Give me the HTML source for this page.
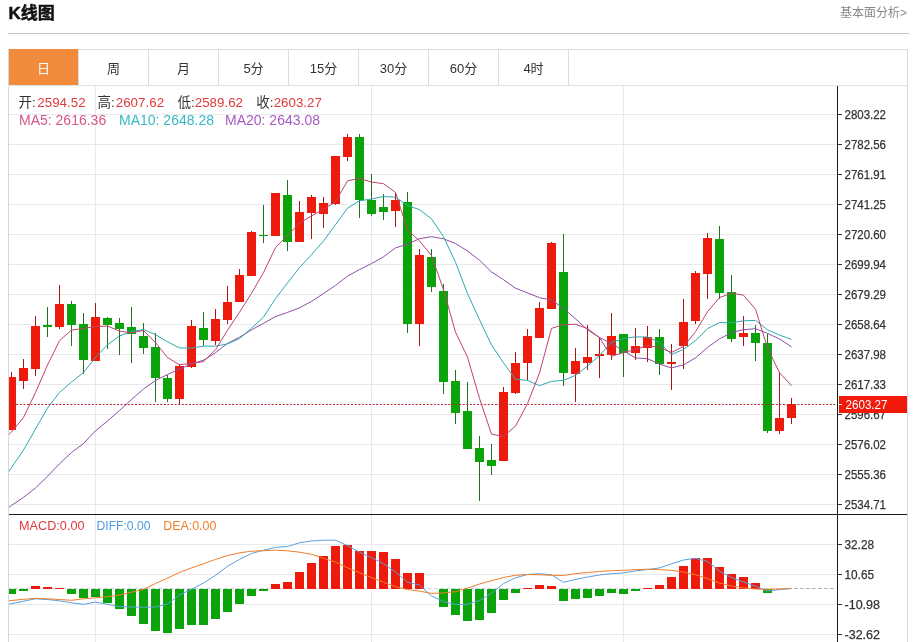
<!DOCTYPE html><html><head><meta charset="utf-8"><style>html,body{margin:0;padding:0;background:#fff;width:913px;height:642px;overflow:hidden}svg{display:block}text{font-family:"Liberation Sans","Noto Sans CJK SC",sans-serif}.ax{stroke:#333;stroke-width:0.25px}</style></head><body>
<svg width="913" height="642" viewBox="0 0 913 642" shape-rendering="crispEdges">
<text x="8.5" y="18.7" font-size="17" font-weight="bold" fill="#111" stroke="#111" stroke-width="0.5">K线图</text>
<text x="907" y="16.7" font-size="12" fill="#888" text-anchor="end">基本面分析&gt;</text>
<rect x="8" y="33" width="901" height="1" fill="#c4c4c4"/>
<rect x="8" y="49" width="1" height="593" fill="#d8d8d8"/>
<rect x="907" y="49" width="1" height="593" fill="#d8d8d8"/>
<rect x="8" y="49" width="900" height="1" fill="#dcdcdc"/>
<rect x="8" y="85" width="900" height="1" fill="#e2e2e2"/>
<rect x="9" y="49" width="69" height="36" fill="#f18a3b"/>
<text x="43.5" y="73" font-size="13" fill="#fff" text-anchor="middle">日</text>
<rect x="78" y="50" width="1" height="35" fill="#dcdcdc"/>
<text x="113.5" y="73" font-size="13" fill="#333" text-anchor="middle">周</text>
<rect x="148" y="50" width="1" height="35" fill="#dcdcdc"/>
<text x="183.5" y="73" font-size="13" fill="#333" text-anchor="middle">月</text>
<rect x="218" y="50" width="1" height="35" fill="#dcdcdc"/>
<text x="253.5" y="73" font-size="13" fill="#333" text-anchor="middle">5分</text>
<rect x="288" y="50" width="1" height="35" fill="#dcdcdc"/>
<text x="323.5" y="73" font-size="13" fill="#333" text-anchor="middle">15分</text>
<rect x="358" y="50" width="1" height="35" fill="#dcdcdc"/>
<text x="393.5" y="73" font-size="13" fill="#333" text-anchor="middle">30分</text>
<rect x="428" y="50" width="1" height="35" fill="#dcdcdc"/>
<text x="463.5" y="73" font-size="13" fill="#333" text-anchor="middle">60分</text>
<rect x="498" y="50" width="1" height="35" fill="#dcdcdc"/>
<text x="533.5" y="73" font-size="13" fill="#333" text-anchor="middle">4时</text>
<rect x="568" y="50" width="1" height="35" fill="#dcdcdc"/>
<rect x="9" y="114" width="828" height="1" fill="#e9e9eb"/>
<rect x="9" y="144" width="828" height="1" fill="#e9e9eb"/>
<rect x="9" y="174" width="828" height="1" fill="#e9e9eb"/>
<rect x="9" y="204" width="828" height="1" fill="#e9e9eb"/>
<rect x="9" y="234" width="828" height="1" fill="#e9e9eb"/>
<rect x="9" y="264" width="828" height="1" fill="#e9e9eb"/>
<rect x="9" y="294" width="828" height="1" fill="#e9e9eb"/>
<rect x="9" y="324" width="828" height="1" fill="#e9e9eb"/>
<rect x="9" y="354" width="828" height="1" fill="#e9e9eb"/>
<rect x="9" y="384" width="828" height="1" fill="#e9e9eb"/>
<rect x="9" y="414" width="828" height="1" fill="#e9e9eb"/>
<rect x="9" y="444" width="828" height="1" fill="#e9e9eb"/>
<rect x="9" y="474" width="828" height="1" fill="#e9e9eb"/>
<rect x="9" y="504" width="828" height="1" fill="#e9e9eb"/>
<rect x="9" y="544" width="828" height="1" fill="#e9e9eb"/>
<rect x="9" y="574" width="828" height="1" fill="#e9e9eb"/>
<rect x="9" y="604" width="828" height="1" fill="#e9e9eb"/>
<rect x="9" y="634" width="828" height="1" fill="#e9e9eb"/>
<rect x="95" y="86" width="1" height="556" fill="#e9e9eb"/>
<rect x="371" y="86" width="1" height="556" fill="#e9e9eb"/>
<rect x="623" y="86" width="1" height="556" fill="#e9e9eb"/>
<defs><clipPath id="cm"><rect x="9" y="86" width="828" height="428"/></clipPath><clipPath id="cd"><rect x="9" y="515" width="828" height="127"/></clipPath></defs>
<g clip-path="url(#cm)">
<rect x="11.0" y="372.0" width="1" height="58.0" fill="#a8180e"/>
<rect x="7.0" y="377.3" width="9" height="52.4" fill="#ee1a0c"/>
<rect x="23.0" y="359.0" width="1" height="30.0" fill="#a8180e"/>
<rect x="19.0" y="368.3" width="9" height="12.2" fill="#ee1a0c"/>
<rect x="35.0" y="315.7" width="1" height="60.3" fill="#a8180e"/>
<rect x="31.0" y="326.2" width="9" height="42.8" fill="#ee1a0c"/>
<rect x="47.0" y="307.0" width="1" height="30.0" fill="#1d741d"/>
<rect x="43.0" y="325.0" width="9" height="2.4" fill="#0aa40a"/>
<rect x="59.0" y="285.0" width="1" height="44.0" fill="#a8180e"/>
<rect x="55.0" y="304.0" width="9" height="23.0" fill="#ee1a0c"/>
<rect x="71.0" y="301.0" width="1" height="45.3" fill="#1d741d"/>
<rect x="67.0" y="304.0" width="9" height="20.6" fill="#0aa40a"/>
<rect x="83.0" y="313.4" width="1" height="60.6" fill="#1d741d"/>
<rect x="79.0" y="324.0" width="9" height="35.8" fill="#0aa40a"/>
<rect x="95.0" y="303.0" width="1" height="58.0" fill="#a8180e"/>
<rect x="91.0" y="317.2" width="9" height="43.8" fill="#ee1a0c"/>
<rect x="107.0" y="317.4" width="1" height="31.8" fill="#1d741d"/>
<rect x="103.0" y="318.2" width="9" height="6.7" fill="#0aa40a"/>
<rect x="119.0" y="318.0" width="1" height="36.5" fill="#1d741d"/>
<rect x="115.0" y="323.2" width="9" height="5.7" fill="#0aa40a"/>
<rect x="131.0" y="307.2" width="1" height="55.7" fill="#1d741d"/>
<rect x="127.0" y="327.1" width="9" height="6.5" fill="#0aa40a"/>
<rect x="143.0" y="322.7" width="1" height="31.3" fill="#1d741d"/>
<rect x="139.0" y="335.6" width="9" height="12.4" fill="#0aa40a"/>
<rect x="155.0" y="332.5" width="1" height="69.5" fill="#1d741d"/>
<rect x="151.0" y="347.2" width="9" height="31.1" fill="#0aa40a"/>
<rect x="167.0" y="375.0" width="1" height="26.7" fill="#1d741d"/>
<rect x="163.0" y="378.0" width="9" height="20.6" fill="#0aa40a"/>
<rect x="179.0" y="364.0" width="1" height="41.0" fill="#a8180e"/>
<rect x="175.0" y="365.5" width="9" height="33.5" fill="#ee1a0c"/>
<rect x="191.0" y="320.0" width="1" height="48.0" fill="#a8180e"/>
<rect x="187.0" y="326.2" width="9" height="40.8" fill="#ee1a0c"/>
<rect x="203.0" y="312.0" width="1" height="34.0" fill="#1d741d"/>
<rect x="199.0" y="328.0" width="9" height="11.5" fill="#0aa40a"/>
<rect x="215.0" y="309.0" width="1" height="36.0" fill="#a8180e"/>
<rect x="211.0" y="318.5" width="9" height="22.2" fill="#ee1a0c"/>
<rect x="227.0" y="285.7" width="1" height="38.1" fill="#a8180e"/>
<rect x="223.0" y="302.0" width="9" height="17.6" fill="#ee1a0c"/>
<rect x="239.0" y="269.0" width="1" height="33.3" fill="#a8180e"/>
<rect x="235.0" y="274.8" width="9" height="27.5" fill="#ee1a0c"/>
<rect x="251.0" y="230.8" width="1" height="44.7" fill="#a8180e"/>
<rect x="247.0" y="231.5" width="9" height="44.0" fill="#ee1a0c"/>
<rect x="263.0" y="205.3" width="1" height="37.4" fill="#1d741d"/>
<rect x="259.0" y="235.0" width="9" height="1.4" fill="#0aa40a"/>
<rect x="275.0" y="193.1" width="1" height="43.3" fill="#a8180e"/>
<rect x="271.0" y="193.1" width="9" height="43.3" fill="#ee1a0c"/>
<rect x="287.0" y="179.6" width="1" height="71.2" fill="#1d741d"/>
<rect x="283.0" y="194.8" width="9" height="47.2" fill="#0aa40a"/>
<rect x="299.0" y="201.3" width="1" height="40.7" fill="#a8180e"/>
<rect x="295.0" y="211.8" width="9" height="30.2" fill="#ee1a0c"/>
<rect x="311.0" y="194.8" width="1" height="44.2" fill="#a8180e"/>
<rect x="307.0" y="196.6" width="9" height="16.2" fill="#ee1a0c"/>
<rect x="323.0" y="197.0" width="1" height="30.5" fill="#a8180e"/>
<rect x="319.0" y="203.0" width="9" height="10.5" fill="#ee1a0c"/>
<rect x="335.0" y="155.7" width="1" height="49.6" fill="#a8180e"/>
<rect x="331.0" y="155.7" width="9" height="48.3" fill="#ee1a0c"/>
<rect x="347.0" y="133.5" width="1" height="27.5" fill="#a8180e"/>
<rect x="343.0" y="137.0" width="9" height="20.4" fill="#ee1a0c"/>
<rect x="359.0" y="133.5" width="1" height="84.5" fill="#1d741d"/>
<rect x="355.0" y="136.8" width="9" height="63.6" fill="#0aa40a"/>
<rect x="371.0" y="173.5" width="1" height="42.1" fill="#1d741d"/>
<rect x="367.0" y="200.4" width="9" height="13.3" fill="#0aa40a"/>
<rect x="383.0" y="194.0" width="1" height="25.8" fill="#1d741d"/>
<rect x="379.0" y="206.9" width="9" height="4.7" fill="#0aa40a"/>
<rect x="395.0" y="193.4" width="1" height="33.8" fill="#a8180e"/>
<rect x="391.0" y="199.9" width="9" height="11.0" fill="#ee1a0c"/>
<rect x="407.0" y="192.2" width="1" height="140.4" fill="#1d741d"/>
<rect x="403.0" y="202.2" width="9" height="121.8" fill="#0aa40a"/>
<rect x="419.0" y="249.4" width="1" height="96.5" fill="#a8180e"/>
<rect x="415.0" y="255.3" width="9" height="68.7" fill="#ee1a0c"/>
<rect x="431.0" y="249.4" width="1" height="42.6" fill="#1d741d"/>
<rect x="427.0" y="257.1" width="9" height="29.9" fill="#0aa40a"/>
<rect x="443.0" y="284.2" width="1" height="109.6" fill="#1d741d"/>
<rect x="439.0" y="290.5" width="9" height="91.1" fill="#0aa40a"/>
<rect x="455.0" y="369.8" width="1" height="53.9" fill="#1d741d"/>
<rect x="451.0" y="381.0" width="9" height="31.7" fill="#0aa40a"/>
<rect x="467.0" y="382.1" width="1" height="67.2" fill="#1d741d"/>
<rect x="463.0" y="411.2" width="9" height="38.1" fill="#0aa40a"/>
<rect x="479.0" y="436.0" width="1" height="65.4" fill="#1d741d"/>
<rect x="475.0" y="448.3" width="9" height="13.3" fill="#0aa40a"/>
<rect x="491.0" y="444.0" width="1" height="31.0" fill="#1d741d"/>
<rect x="487.0" y="460.0" width="9" height="5.6" fill="#0aa40a"/>
<rect x="503.0" y="386.9" width="1" height="74.1" fill="#a8180e"/>
<rect x="499.0" y="392.2" width="9" height="68.8" fill="#ee1a0c"/>
<rect x="515.0" y="352.0" width="1" height="41.9" fill="#a8180e"/>
<rect x="511.0" y="362.5" width="9" height="30.2" fill="#ee1a0c"/>
<rect x="527.0" y="329.3" width="1" height="50.7" fill="#a8180e"/>
<rect x="523.0" y="336.3" width="9" height="26.9" fill="#ee1a0c"/>
<rect x="539.0" y="302.4" width="1" height="35.1" fill="#a8180e"/>
<rect x="535.0" y="308.3" width="9" height="29.2" fill="#ee1a0c"/>
<rect x="551.0" y="241.7" width="1" height="67.7" fill="#a8180e"/>
<rect x="547.0" y="242.9" width="9" height="66.1" fill="#ee1a0c"/>
<rect x="563.0" y="233.5" width="1" height="152.9" fill="#1d741d"/>
<rect x="559.0" y="272.0" width="9" height="100.9" fill="#0aa40a"/>
<rect x="575.0" y="347.9" width="1" height="53.7" fill="#a8180e"/>
<rect x="571.0" y="361.2" width="9" height="12.4" fill="#ee1a0c"/>
<rect x="587.0" y="324.5" width="1" height="45.1" fill="#a8180e"/>
<rect x="583.0" y="357.2" width="9" height="5.4" fill="#ee1a0c"/>
<rect x="599.0" y="337.4" width="1" height="40.9" fill="#a8180e"/>
<rect x="595.0" y="354.4" width="9" height="1.2" fill="#ee1a0c"/>
<rect x="611.0" y="312.9" width="1" height="46.7" fill="#a8180e"/>
<rect x="607.0" y="336.2" width="9" height="19.2" fill="#ee1a0c"/>
<rect x="623.0" y="333.9" width="1" height="43.1" fill="#1d741d"/>
<rect x="619.0" y="333.9" width="9" height="19.4" fill="#0aa40a"/>
<rect x="635.0" y="328.0" width="1" height="31.6" fill="#a8180e"/>
<rect x="631.0" y="346.3" width="9" height="6.3" fill="#ee1a0c"/>
<rect x="647.0" y="326.0" width="1" height="35.5" fill="#a8180e"/>
<rect x="643.0" y="337.4" width="9" height="10.5" fill="#ee1a0c"/>
<rect x="659.0" y="328.9" width="1" height="46.0" fill="#1d741d"/>
<rect x="655.0" y="337.3" width="9" height="26.7" fill="#0aa40a"/>
<rect x="671.0" y="343.5" width="1" height="46.3" fill="#a8180e"/>
<rect x="667.0" y="361.7" width="9" height="2.3" fill="#ee1a0c"/>
<rect x="683.0" y="298.6" width="1" height="70.1" fill="#a8180e"/>
<rect x="679.0" y="322.4" width="9" height="23.9" fill="#ee1a0c"/>
<rect x="695.0" y="270.5" width="1" height="53.9" fill="#a8180e"/>
<rect x="691.0" y="272.8" width="9" height="48.2" fill="#ee1a0c"/>
<rect x="707.0" y="232.6" width="1" height="66.5" fill="#a8180e"/>
<rect x="703.0" y="238.2" width="9" height="35.7" fill="#ee1a0c"/>
<rect x="719.0" y="225.6" width="1" height="73.5" fill="#1d741d"/>
<rect x="715.0" y="238.8" width="9" height="54.2" fill="#0aa40a"/>
<rect x="731.0" y="274.7" width="1" height="67.3" fill="#1d741d"/>
<rect x="727.0" y="292.4" width="9" height="46.6" fill="#0aa40a"/>
<rect x="743.0" y="316.0" width="1" height="29.6" fill="#a8180e"/>
<rect x="739.0" y="333.2" width="9" height="3.5" fill="#ee1a0c"/>
<rect x="755.0" y="324.5" width="1" height="36.2" fill="#1d741d"/>
<rect x="751.0" y="333.2" width="9" height="9.6" fill="#0aa40a"/>
<rect x="767.0" y="333.9" width="1" height="98.8" fill="#1d741d"/>
<rect x="763.0" y="342.5" width="9" height="88.3" fill="#0aa40a"/>
<rect x="779.0" y="372.4" width="1" height="61.2" fill="#a8180e"/>
<rect x="775.0" y="417.5" width="9" height="13.8" fill="#ee1a0c"/>
<rect x="791.0" y="398.1" width="1" height="25.7" fill="#a8180e"/>
<rect x="787.0" y="404.4" width="9" height="13.1" fill="#ee1a0c"/>
</g>
<g clip-path="url(#cm)" fill="none" stroke-width="1" shape-rendering="auto">
<path d="M-0.5,514.0 L11.5,505.5 L23.5,497.3 L35.5,488.0 L47.5,476.3 L59.5,463.8 L71.5,452.5 L83.5,443.5 L95.5,430.8 L107.5,421.0 L119.5,410.5 L131.5,399.5 L143.5,389.0 L155.5,380.5 L167.5,374.5 L179.5,369.0 L191.5,363.9 L203.5,360.2 L215.5,352.7 L227.5,343.4 L239.5,337.2 L251.5,329.9 L263.5,323.3 L275.5,316.6 L287.5,312.4 L299.5,307.8 L311.5,301.4 L323.5,293.5 L335.5,285.4 L347.5,276.1 L359.5,269.6 L371.5,263.6 L383.5,256.8 L395.5,247.9 L407.5,244.2 L419.5,238.7 L431.5,236.7 L443.5,238.8 L455.5,243.5 L467.5,250.9 L479.5,260.2 L491.5,271.9 L503.5,279.7 L515.5,288.2 L527.5,292.9 L539.5,297.7 L551.5,300.0 L563.5,308.5 L575.5,318.8 L587.5,329.8 L599.5,337.5 L611.5,343.6 L623.5,350.7 L635.5,358.0 L647.5,358.7 L659.5,364.1 L671.5,367.9 L683.5,364.9 L695.5,357.9 L707.5,347.4 L719.5,338.9 L731.5,332.6 L743.5,329.7 L755.5,328.7 L767.5,333.4 L779.5,338.9 L791.5,346.9" stroke="#8e4ea8"/>
<path d="M-0.5,485.0 L11.5,467.6 L23.5,450.0 L35.5,429.0 L47.5,408.0 L59.5,392.5 L71.5,382.0 L83.5,372.5 L95.5,357.3 L107.5,344.8 L119.5,335.9 L131.5,331.5 L143.5,329.5 L155.5,334.7 L167.5,341.8 L179.5,347.9 L191.5,348.1 L203.5,346.1 L215.5,346.2 L227.5,343.9 L239.5,338.5 L251.5,328.3 L263.5,317.1 L275.5,298.6 L287.5,282.9 L299.5,267.6 L311.5,254.6 L323.5,241.0 L335.5,224.7 L347.5,208.2 L359.5,200.8 L371.5,199.0 L383.5,196.5 L395.5,197.2 L407.5,205.4 L419.5,209.7 L431.5,218.8 L443.5,236.6 L455.5,262.3 L467.5,293.6 L479.5,319.7 L491.5,344.9 L503.5,362.9 L515.5,379.2 L527.5,380.4 L539.5,385.7 L551.5,381.3 L563.5,380.4 L575.5,375.3 L587.5,366.1 L599.5,355.4 L611.5,342.4 L623.5,338.5 L635.5,336.9 L647.5,337.0 L659.5,342.6 L671.5,354.5 L683.5,349.4 L695.5,340.6 L707.5,328.7 L719.5,322.5 L731.5,322.8 L743.5,320.8 L755.5,320.4 L767.5,329.8 L779.5,335.1 L791.5,339.4" stroke="#2fa8b0"/>
<path d="M-0.5,444.0 L11.5,431.9 L23.5,417.5 L35.5,392.5 L47.5,365.0 L59.5,340.6 L71.5,330.1 L83.5,328.4 L95.5,326.6 L107.5,326.1 L119.5,331.1 L131.5,332.9 L143.5,330.5 L155.5,342.7 L167.5,357.5 L179.5,364.8 L191.5,363.3 L203.5,361.6 L215.5,349.7 L227.5,330.3 L239.5,312.2 L251.5,293.3 L263.5,272.6 L275.5,247.6 L287.5,235.6 L299.5,223.0 L311.5,216.0 L323.5,209.3 L335.5,201.8 L347.5,180.8 L359.5,178.5 L371.5,182.0 L383.5,183.7 L395.5,192.5 L407.5,229.9 L419.5,240.9 L431.5,255.6 L443.5,289.6 L455.5,332.1 L467.5,357.2 L479.5,398.4 L491.5,434.2 L503.5,436.3 L515.5,426.2 L527.5,403.6 L539.5,373.0 L551.5,328.4 L563.5,324.6 L575.5,324.3 L587.5,328.5 L599.5,337.7 L611.5,356.4 L623.5,352.5 L635.5,349.5 L647.5,345.5 L659.5,347.4 L671.5,352.5 L683.5,346.4 L695.5,331.7 L707.5,311.8 L719.5,297.6 L731.5,293.1 L743.5,295.2 L755.5,309.2 L767.5,347.8 L779.5,372.7 L791.5,385.7" stroke="#c0426f"/>
</g>
<line x1="9" y1="404.5" x2="837" y2="404.5" stroke="#b02434" stroke-width="1" stroke-dasharray="2,1.6" shape-rendering="auto"/>
<line x1="8" y1="588.5" x2="836" y2="588.5" stroke="#c8d0d8" stroke-width="1" stroke-dasharray="3.6,2.4" shape-rendering="auto"/>
<g clip-path="url(#cd)">
<rect x="7.0" y="588.5" width="9" height="5.7" fill="#0aa40a"/>
<rect x="19.0" y="588.5" width="9" height="2.1" fill="#0aa40a"/>
<rect x="31.0" y="586.3" width="9" height="2.2" fill="#ee1a0c"/>
<rect x="43.0" y="587.1" width="9" height="1.4" fill="#ee1a0c"/>
<rect x="55.0" y="587.8" width="9" height="0.7" fill="#ee1a0c"/>
<rect x="67.0" y="588.5" width="9" height="5.2" fill="#0aa40a"/>
<rect x="79.0" y="588.5" width="9" height="9.3" fill="#0aa40a"/>
<rect x="91.0" y="588.5" width="9" height="8.5" fill="#0aa40a"/>
<rect x="103.0" y="588.5" width="9" height="14.3" fill="#0aa40a"/>
<rect x="115.0" y="588.5" width="9" height="20.5" fill="#0aa40a"/>
<rect x="127.0" y="588.5" width="9" height="27.4" fill="#0aa40a"/>
<rect x="139.0" y="588.5" width="9" height="35.3" fill="#0aa40a"/>
<rect x="151.0" y="588.5" width="9" height="42.2" fill="#0aa40a"/>
<rect x="163.0" y="588.5" width="9" height="44.3" fill="#0aa40a"/>
<rect x="175.0" y="588.5" width="9" height="40.2" fill="#0aa40a"/>
<rect x="187.0" y="588.5" width="9" height="36.4" fill="#0aa40a"/>
<rect x="199.0" y="588.5" width="9" height="36.1" fill="#0aa40a"/>
<rect x="211.0" y="588.5" width="9" height="30.0" fill="#0aa40a"/>
<rect x="223.0" y="588.5" width="9" height="23.5" fill="#0aa40a"/>
<rect x="235.0" y="588.5" width="9" height="15.2" fill="#0aa40a"/>
<rect x="247.0" y="588.5" width="9" height="7.0" fill="#0aa40a"/>
<rect x="259.0" y="588.5" width="9" height="2.1" fill="#0aa40a"/>
<rect x="271.0" y="584.0" width="9" height="4.5" fill="#ee1a0c"/>
<rect x="283.0" y="582.2" width="9" height="6.3" fill="#ee1a0c"/>
<rect x="295.0" y="571.9" width="9" height="16.6" fill="#ee1a0c"/>
<rect x="307.0" y="563.2" width="9" height="25.3" fill="#ee1a0c"/>
<rect x="319.0" y="555.8" width="9" height="32.7" fill="#ee1a0c"/>
<rect x="331.0" y="546.4" width="9" height="42.1" fill="#ee1a0c"/>
<rect x="343.0" y="545.1" width="9" height="43.4" fill="#ee1a0c"/>
<rect x="355.0" y="550.5" width="9" height="38.0" fill="#ee1a0c"/>
<rect x="367.0" y="551.0" width="9" height="37.5" fill="#ee1a0c"/>
<rect x="379.0" y="552.2" width="9" height="36.3" fill="#ee1a0c"/>
<rect x="391.0" y="558.7" width="9" height="29.8" fill="#ee1a0c"/>
<rect x="403.0" y="573.2" width="9" height="15.3" fill="#ee1a0c"/>
<rect x="415.0" y="573.3" width="9" height="15.2" fill="#ee1a0c"/>
<rect x="439.0" y="588.5" width="9" height="18.0" fill="#0aa40a"/>
<rect x="451.0" y="588.5" width="9" height="26.2" fill="#0aa40a"/>
<rect x="463.0" y="588.5" width="9" height="32.0" fill="#0aa40a"/>
<rect x="475.0" y="588.5" width="9" height="31.2" fill="#0aa40a"/>
<rect x="487.0" y="588.5" width="9" height="24.6" fill="#0aa40a"/>
<rect x="499.0" y="588.5" width="9" height="11.8" fill="#0aa40a"/>
<rect x="511.0" y="588.5" width="9" height="4.6" fill="#0aa40a"/>
<rect x="523.0" y="588.0" width="9" height="0.5" fill="#ee1a0c"/>
<rect x="535.0" y="584.8" width="9" height="3.7" fill="#ee1a0c"/>
<rect x="547.0" y="586.2" width="9" height="2.3" fill="#ee1a0c"/>
<rect x="559.0" y="588.5" width="9" height="12.3" fill="#0aa40a"/>
<rect x="571.0" y="588.5" width="9" height="10.1" fill="#0aa40a"/>
<rect x="583.0" y="588.5" width="9" height="9.0" fill="#0aa40a"/>
<rect x="595.0" y="588.5" width="9" height="7.4" fill="#0aa40a"/>
<rect x="607.0" y="588.5" width="9" height="4.9" fill="#0aa40a"/>
<rect x="619.0" y="588.5" width="9" height="5.2" fill="#0aa40a"/>
<rect x="631.0" y="588.5" width="9" height="2.1" fill="#0aa40a"/>
<rect x="643.0" y="587.6" width="9" height="0.9" fill="#ee1a0c"/>
<rect x="655.0" y="584.8" width="9" height="3.7" fill="#ee1a0c"/>
<rect x="667.0" y="577.0" width="9" height="11.5" fill="#ee1a0c"/>
<rect x="679.0" y="565.8" width="9" height="22.7" fill="#ee1a0c"/>
<rect x="691.0" y="557.7" width="9" height="30.8" fill="#ee1a0c"/>
<rect x="703.0" y="557.6" width="9" height="30.9" fill="#ee1a0c"/>
<rect x="715.0" y="567.1" width="9" height="21.4" fill="#ee1a0c"/>
<rect x="727.0" y="573.7" width="9" height="14.8" fill="#ee1a0c"/>
<rect x="739.0" y="576.6" width="9" height="11.9" fill="#ee1a0c"/>
<rect x="751.0" y="583.0" width="9" height="5.5" fill="#ee1a0c"/>
<rect x="763.0" y="588.5" width="9" height="4.1" fill="#0aa40a"/>
</g>
<g clip-path="url(#cd)" fill="none" stroke-width="1" shape-rendering="auto">
<path d="M-0.5,606.0 L11.5,603.7 L23.5,601.2 L35.5,598.8 L47.5,599.5 L59.5,600.8 L71.5,602.8 L83.5,604.4 L95.5,602.1 L107.5,604.4 L119.5,606.5 L131.5,607.0 L143.5,607.2 L155.5,607.0 L167.5,604.0 L179.5,595.0 L191.5,589.3 L203.5,583.0 L215.5,575.3 L227.5,566.3 L239.5,559.4 L251.5,553.5 L263.5,550.2 L275.5,547.4 L287.5,546.5 L299.5,542.8 L311.5,541.0 L323.5,540.2 L335.5,540.2 L347.5,545.6 L359.5,552.2 L371.5,557.6 L383.5,563.7 L395.5,571.9 L407.5,582.2 L419.5,585.0 L431.5,595.9 L443.5,601.6 L455.5,604.4 L467.5,604.4 L479.5,600.5 L491.5,593.4 L503.5,583.5 L515.5,577.8 L527.5,574.5 L539.5,573.7 L551.5,574.8 L563.5,582.4 L575.5,579.4 L587.5,577.0 L599.5,575.0 L611.5,573.7 L623.5,572.9 L635.5,570.9 L647.5,569.6 L659.5,567.9 L671.5,563.8 L683.5,560.0 L695.5,558.4 L707.5,561.4 L719.5,571.2 L731.5,577.5 L743.5,581.9 L755.5,586.3 L767.5,590.9 L779.5,589.6 L791.5,588.5" stroke="#5aa0e0"/>
<path d="M-0.5,601.5 L11.5,600.5 L23.5,599.3 L35.5,598.3 L47.5,598.8 L59.5,599.5 L71.5,600.3 L83.5,598.8 L95.5,597.8 L107.5,596.7 L119.5,595.0 L131.5,592.2 L143.5,589.3 L155.5,583.5 L167.5,578.1 L179.5,572.5 L191.5,567.9 L203.5,563.8 L215.5,559.4 L227.5,555.6 L239.5,552.8 L251.5,551.2 L263.5,550.7 L275.5,550.2 L287.5,550.8 L299.5,552.2 L311.5,554.3 L323.5,558.3 L335.5,562.0 L347.5,567.8 L359.5,572.7 L371.5,577.6 L383.5,582.2 L395.5,586.7 L407.5,589.5 L419.5,591.1 L431.5,593.4 L443.5,592.9 L455.5,591.7 L467.5,588.1 L479.5,584.0 L491.5,580.7 L503.5,577.5 L515.5,575.3 L527.5,574.5 L539.5,574.8 L551.5,575.3 L563.5,575.5 L575.5,573.7 L587.5,572.5 L599.5,571.5 L611.5,570.7 L623.5,570.4 L635.5,569.6 L647.5,569.2 L659.5,569.6 L671.5,570.4 L683.5,572.0 L695.5,574.8 L707.5,578.6 L719.5,583.0 L731.5,586.0 L743.5,588.0 L755.5,589.0 L767.5,589.3 L779.5,589.0 L791.5,588.5" stroke="#f07d2a"/>
</g>
<line x1="794" y1="588.5" x2="836" y2="588.5" stroke="#aab4c0" stroke-width="1" stroke-dasharray="3.6,2.4" shape-rendering="auto"/>
<rect x="9" y="514" width="898" height="1" fill="#1a1a1a"/>
<rect x="837" y="86" width="1" height="556" fill="#1a1a1a"/>
<rect x="838" y="114" width="4" height="1" fill="#333"/>
<text x="844.5" y="118.8" font-size="12.5" fill="#333" class="ax" textLength="41.5" lengthAdjust="spacingAndGlyphs">2803.22</text>
<rect x="838" y="144" width="4" height="1" fill="#333"/>
<text x="844.5" y="148.8" font-size="12.5" fill="#333" class="ax" textLength="41.5" lengthAdjust="spacingAndGlyphs">2782.56</text>
<rect x="838" y="174" width="4" height="1" fill="#333"/>
<text x="844.5" y="178.8" font-size="12.5" fill="#333" class="ax" textLength="41.5" lengthAdjust="spacingAndGlyphs">2761.91</text>
<rect x="838" y="204" width="4" height="1" fill="#333"/>
<text x="844.5" y="208.8" font-size="12.5" fill="#333" class="ax" textLength="41.5" lengthAdjust="spacingAndGlyphs">2741.25</text>
<rect x="838" y="234" width="4" height="1" fill="#333"/>
<text x="844.5" y="238.8" font-size="12.5" fill="#333" class="ax" textLength="41.5" lengthAdjust="spacingAndGlyphs">2720.60</text>
<rect x="838" y="264" width="4" height="1" fill="#333"/>
<text x="844.5" y="268.8" font-size="12.5" fill="#333" class="ax" textLength="41.5" lengthAdjust="spacingAndGlyphs">2699.94</text>
<rect x="838" y="294" width="4" height="1" fill="#333"/>
<text x="844.5" y="298.8" font-size="12.5" fill="#333" class="ax" textLength="41.5" lengthAdjust="spacingAndGlyphs">2679.29</text>
<rect x="838" y="324" width="4" height="1" fill="#333"/>
<text x="844.5" y="328.8" font-size="12.5" fill="#333" class="ax" textLength="41.5" lengthAdjust="spacingAndGlyphs">2658.64</text>
<rect x="838" y="354" width="4" height="1" fill="#333"/>
<text x="844.5" y="358.8" font-size="12.5" fill="#333" class="ax" textLength="41.5" lengthAdjust="spacingAndGlyphs">2637.98</text>
<rect x="838" y="384" width="4" height="1" fill="#333"/>
<text x="844.5" y="388.8" font-size="12.5" fill="#333" class="ax" textLength="41.5" lengthAdjust="spacingAndGlyphs">2617.33</text>
<rect x="838" y="414" width="4" height="1" fill="#333"/>
<text x="844.5" y="418.8" font-size="12.5" fill="#333" class="ax" textLength="41.5" lengthAdjust="spacingAndGlyphs">2596.67</text>
<rect x="838" y="444" width="4" height="1" fill="#333"/>
<text x="844.5" y="448.8" font-size="12.5" fill="#333" class="ax" textLength="41.5" lengthAdjust="spacingAndGlyphs">2576.02</text>
<rect x="838" y="474" width="4" height="1" fill="#333"/>
<text x="844.5" y="478.8" font-size="12.5" fill="#333" class="ax" textLength="41.5" lengthAdjust="spacingAndGlyphs">2555.36</text>
<rect x="838" y="504" width="4" height="1" fill="#333"/>
<text x="844.5" y="508.8" font-size="12.5" fill="#333" class="ax" textLength="41.5" lengthAdjust="spacingAndGlyphs">2534.71</text>
<rect x="838" y="544" width="4" height="1" fill="#333"/>
<text x="844.5" y="548.8" font-size="12.5" fill="#333" class="ax" textLength="29.5" lengthAdjust="spacingAndGlyphs">32.28</text>
<rect x="838" y="574" width="4" height="1" fill="#333"/>
<text x="844.5" y="578.8" font-size="12.5" fill="#333" class="ax" textLength="29.5" lengthAdjust="spacingAndGlyphs">10.65</text>
<rect x="838" y="604" width="4" height="1" fill="#333"/>
<text x="844.5" y="608.8" font-size="12.5" fill="#333" class="ax" textLength="35.5" lengthAdjust="spacingAndGlyphs">-10.98</text>
<rect x="838" y="634" width="4" height="1" fill="#333"/>
<text x="844.5" y="638.8" font-size="12.5" fill="#333" class="ax" textLength="35.5" lengthAdjust="spacingAndGlyphs">-32.62</text>
<rect x="839" y="395.5" width="68" height="17" fill="#f0190a"/>
<rect x="838" y="404" width="4" height="1" fill="#fff"/>
<text x="845.5" y="408.8" font-size="12.5" fill="#fff" textLength="42" lengthAdjust="spacingAndGlyphs">2603.27</text>
<text y="106.9" font-size="13.5" fill="#333"><tspan x="18.4">开:</tspan><tspan x="37.3" fill="#e03a3a" textLength="48.3" lengthAdjust="spacingAndGlyphs">2594.52</tspan><tspan x="97.5">高:</tspan><tspan x="115.7" fill="#e03a3a" textLength="48.5" lengthAdjust="spacingAndGlyphs">2607.62</tspan><tspan x="177.4">低:</tspan><tspan x="194.8" fill="#e03a3a" textLength="48.2" lengthAdjust="spacingAndGlyphs">2589.62</tspan><tspan x="256.2">收:</tspan><tspan x="273.7" fill="#e03a3a" textLength="48.2" lengthAdjust="spacingAndGlyphs">2603.27</tspan></text>
<text y="124.9" font-size="14"><tspan x="19" fill="#d8558c">MA5: 2616.36</tspan><tspan x="119" fill="#36b9c6">MA10: 2648.28</tspan><tspan x="225" fill="#a55bc4">MA20: 2643.08</tspan></text>
<text y="530" font-size="12.5"><tspan x="19" fill="#e03a3a" textLength="65.5" lengthAdjust="spacingAndGlyphs">MACD:0.00</tspan><tspan x="96.5" fill="#4a9be0" textLength="54" lengthAdjust="spacingAndGlyphs">DIFF:0.00</tspan><tspan x="163.2" fill="#f07d2a" textLength="53.2" lengthAdjust="spacingAndGlyphs">DEA:0.00</tspan></text>
</svg></body></html>
